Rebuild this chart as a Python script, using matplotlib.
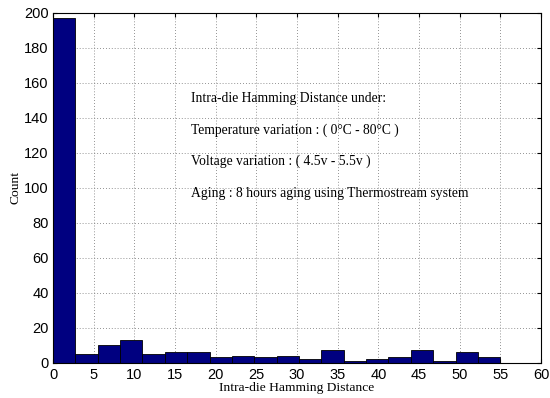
import matplotlib
matplotlib.use("Agg")
import matplotlib.pyplot as plt
import numpy as np

bin_edges = np.linspace(0, 55, 21)
counts = [197, 5, 10, 13, 5, 6, 6, 3, 4, 3, 4, 2, 7, 1, 2, 3, 7, 1, 6, 3]
xticks = list(range(0, 61, 5))
yticks = list(range(0, 201, 20))
lines = [
    "Intra-die Hamming Distance under:",
    "Temperature variation : ( 0\u00b0C - 80\u00b0C )",
    "Voltage variation : ( 4.5v - 5.5v )",
    "Aging : 8 hours aging using Thermostream system",
]
line_y = [151, 133, 115, 96.5]

fig = plt.figure(figsize=(5.5, 3.98), dpi=100)
ax = fig.add_axes([0.0964, 0.0887, 0.8872, 0.8793])
ax.bar(bin_edges[:-1], counts, width=np.diff(bin_edges), align="edge",
       color="#000080", edgecolor="black", linewidth=0.6, zorder=2)
ax.set_xlim(0, 60)
ax.set_ylim(0, 200)
ax.set_xticks(xticks)
ax.set_yticks(yticks)
ax.grid(True, linestyle=(0, (1, 2.5)), color="#707070", linewidth=0.6, zorder=0)
ax.set_axisbelow(True)
ax.tick_params(direction="in", length=3, labelsize=10.5, top=True, right=True)
ax.tick_params(axis="x", pad=4)
ax.tick_params(axis="y", pad=3)
for lab in ax.get_xticklabels() + ax.get_yticklabels():
    lab.set_fontfamily("Liberation Sans")
for s in ax.spines.values():
    s.set_linewidth(0.8)
ax.set_xlabel("Intra-die Hamming Distance", family="Liberation Serif", fontsize=9.7, labelpad=0)
ax.set_ylabel("Count", family="Liberation Serif", fontsize=9.7, labelpad=2)
for t, y in zip(lines, line_y):
    ax.text(17.0, y, t, family="Liberation Serif", fontsize=9.8, va="center", ha="left")
fig.savefig("out.png", dpi=100)
